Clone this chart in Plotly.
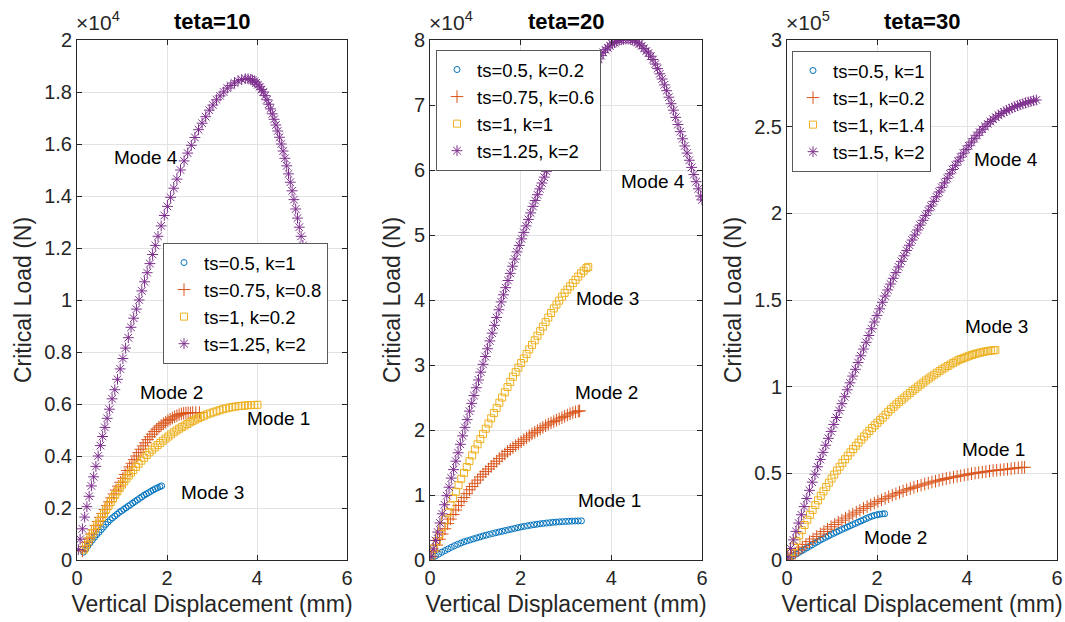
import plotly.graph_objects as go

# ---------------- DATA (x: mm, y: critical load in units of the axis exponent) ----------------
# teta = 10  (y in 1e4 N)
T10_NAMES = ["ts=0.5, k=1", "ts=0.75, k=0.8", "ts=1, k=0.2", "ts=1.25, k=2"]
T10_X1 = [0.14,0.19,0.24,0.29,0.34,0.39,0.44,0.49,0.54,0.59,0.64,0.69,0.74,0.79,0.84,0.89,0.94,0.99,1.04,1.09,1.14,1.19,1.24,1.29,1.34,1.39,1.44,1.49,1.54,1.59,1.64,1.69,1.74,1.79,1.84,1.88]
T10_Y1 = [0.030,0.042,0.054,0.066,0.077,0.088,0.098,0.107,0.117,0.127,0.137,0.146,0.155,0.162,0.169,0.176,0.183,0.189,0.195,0.201,0.207,0.213,0.219,0.225,0.231,0.237,0.243,0.249,0.254,0.259,0.264,0.269,0.274,0.278,0.282,0.285]
T10_X2 = [0.12,0.17,0.22,0.27,0.32,0.37,0.42,0.47,0.52,0.57,0.62,0.67,0.72,0.77,0.82,0.87,0.92,0.97,1.02,1.07,1.12,1.17,1.22,1.27,1.32,1.37,1.42,1.47,1.52,1.57,1.62,1.67,1.72,1.77,1.82,1.87,1.92,1.97,2.02,2.07,2.12,2.17,2.22,2.27,2.32,2.37,2.42,2.47,2.52,2.57,2.64,2.72]
T10_Y2 = [0.035,0.052,0.068,0.084,0.100,0.116,0.132,0.148,0.164,0.179,0.194,0.209,0.224,0.239,0.254,0.269,0.284,0.299,0.314,0.329,0.344,0.358,0.372,0.386,0.400,0.413,0.426,0.439,0.451,0.463,0.474,0.484,0.494,0.503,0.511,0.518,0.524,0.530,0.536,0.541,0.546,0.551,0.555,0.559,0.562,0.564,0.565,0.566,0.566,0.567,0.567,0.567]
T10_X3 = [0.15,0.20,0.25,0.30,0.35,0.40,0.45,0.50,0.55,0.60,0.65,0.70,0.75,0.80,0.85,0.90,0.95,1.00,1.05,1.10,1.15,1.20,1.25,1.31,1.37,1.43,1.49,1.55,1.61,1.67,1.73,1.79,1.85,1.91,1.97,2.03,2.09,2.15,2.21,2.27,2.33,2.39,2.45,2.51,2.57,2.63,2.69,2.75,2.82,2.89,2.96,3.03,3.10,3.17,3.24,3.31,3.38,3.45,3.52,3.59,3.66,3.73,3.80,3.87,3.94,4.01]
T10_Y3 = [0.040,0.056,0.072,0.088,0.104,0.120,0.135,0.150,0.165,0.180,0.195,0.209,0.223,0.237,0.251,0.264,0.277,0.290,0.302,0.314,0.325,0.336,0.346,0.358,0.370,0.382,0.393,0.404,0.414,0.424,0.433,0.442,0.450,0.459,0.467,0.475,0.483,0.491,0.498,0.505,0.511,0.517,0.523,0.529,0.535,0.540,0.545,0.550,0.555,0.560,0.564,0.568,0.572,0.576,0.580,0.583,0.586,0.588,0.590,0.592,0.593,0.594,0.595,0.596,0.596,0.597]
T10_X4 = [0.03,0.07,0.12,0.17,0.22,0.27,0.32,0.37,0.42,0.47,0.52,0.57,0.62,0.67,0.72,0.78,0.84,0.90,0.96,1.02,1.08,1.14,1.20,1.26,1.32,1.38,1.44,1.50,1.56,1.62,1.68,1.74,1.80,1.87,1.94,2.01,2.08,2.15,2.22,2.30,2.38,2.46,2.54,2.62,2.70,2.78,2.86,2.94,3.02,3.10,3.18,3.26,3.34,3.42,3.50,3.58,3.66,3.74,3.80,3.86,3.90,3.94,3.98,4.02,4.06,4.10,4.14,4.18,4.22,4.26,4.30,4.34,4.38,4.42,4.46,4.50,4.54,4.58,4.62,4.66,4.70,4.74,4.78,4.82,4.86,4.90,4.94,4.98,5.02,5.06,5.10,5.14,5.18,5.22,5.26]
T10_Y4 = [0.040,0.080,0.120,0.165,0.205,0.245,0.285,0.320,0.360,0.400,0.440,0.475,0.510,0.545,0.580,0.620,0.655,0.695,0.735,0.775,0.815,0.855,0.895,0.930,0.965,1.000,1.035,1.070,1.105,1.140,1.175,1.210,1.245,1.285,1.325,1.360,1.395,1.430,1.465,1.500,1.535,1.565,1.595,1.625,1.655,1.680,1.705,1.730,1.750,1.770,1.785,1.800,1.815,1.825,1.835,1.843,1.848,1.851,1.851,1.849,1.846,1.841,1.835,1.828,1.820,1.810,1.800,1.786,1.770,1.753,1.735,1.716,1.695,1.673,1.650,1.626,1.600,1.573,1.545,1.516,1.485,1.453,1.420,1.386,1.350,1.315,1.280,1.245,1.210,1.175,1.140,1.103,1.065,1.028,0.990]

# teta = 20  (y in 1e4 N)
T20_NAMES = ["ts=0.5, k=0.2", "ts=0.75, k=0.6", "ts=1, k=1", "ts=1.25, k=2"]
T20_X1 = [0.05,0.12,0.19,0.26,0.33,0.40,0.47,0.54,0.61,0.68,0.75,0.82,0.89,0.96,1.03,1.10,1.17,1.24,1.31,1.38,1.45,1.52,1.59,1.66,1.73,1.80,1.87,1.94,2.01,2.08,2.15,2.22,2.29,2.36,2.43,2.50,2.57,2.64,2.71,2.78,2.85,2.92,2.99,3.06,3.13,3.20,3.27,3.34]
T20_Y1 = [0.02,0.06,0.09,0.12,0.145,0.17,0.195,0.22,0.24,0.26,0.28,0.295,0.31,0.325,0.34,0.355,0.37,0.383,0.395,0.407,0.419,0.431,0.442,0.453,0.464,0.475,0.487,0.498,0.509,0.518,0.527,0.535,0.543,0.55,0.557,0.563,0.569,0.574,0.579,0.583,0.587,0.59,0.593,0.596,0.598,0.6,0.601,0.602]
T20_X2 = [0.03,0.09,0.15,0.21,0.27,0.33,0.39,0.45,0.51,0.57,0.63,0.69,0.75,0.81,0.87,0.93,0.99,1.05,1.11,1.17,1.23,1.29,1.35,1.41,1.47,1.53,1.59,1.65,1.71,1.77,1.83,1.89,1.95,2.01,2.07,2.13,2.19,2.25,2.31,2.37,2.43,2.49,2.55,2.61,2.67,2.73,2.79,2.85,2.91,2.97,3.03,3.09,3.15,3.21,3.27,3.30]
T20_Y2 = [0.05,0.14,0.23,0.32,0.40,0.48,0.56,0.63,0.70,0.77,0.84,0.90,0.96,1.02,1.08,1.13,1.18,1.23,1.28,1.32,1.36,1.40,1.44,1.48,1.52,1.56,1.60,1.63,1.67,1.70,1.73,1.76,1.79,1.82,1.85,1.88,1.91,1.94,1.965,1.99,2.015,2.04,2.065,2.09,2.11,2.13,2.15,2.17,2.19,2.21,2.23,2.25,2.265,2.28,2.29,2.295]
T20_X3 = [0.03,0.09,0.15,0.21,0.27,0.33,0.39,0.45,0.51,0.57,0.63,0.69,0.75,0.81,0.87,0.93,0.99,1.05,1.11,1.17,1.23,1.29,1.35,1.41,1.47,1.53,1.59,1.65,1.71,1.77,1.83,1.89,1.95,2.01,2.07,2.13,2.19,2.25,2.31,2.37,2.43,2.49,2.55,2.61,2.67,2.73,2.79,2.85,2.91,2.97,3.03,3.09,3.15,3.21,3.27,3.33,3.39,3.45,3.49]
T20_Y3 = [0.06,0.17,0.29,0.40,0.51,0.62,0.73,0.84,0.95,1.05,1.15,1.25,1.34,1.43,1.52,1.61,1.70,1.78,1.86,1.94,2.02,2.10,2.18,2.26,2.34,2.42,2.50,2.58,2.66,2.74,2.82,2.89,2.96,3.03,3.10,3.17,3.24,3.31,3.38,3.45,3.52,3.59,3.66,3.73,3.80,3.87,3.93,3.99,4.05,4.11,4.16,4.21,4.26,4.31,4.36,4.41,4.45,4.49,4.51]
T20_X4 = [0.02,0.07,0.12,0.17,0.22,0.27,0.32,0.37,0.42,0.47,0.52,0.57,0.62,0.67,0.72,0.77,0.82,0.87,0.92,0.97,1.02,1.07,1.12,1.17,1.22,1.27,1.32,1.37,1.42,1.47,1.52,1.57,1.62,1.67,1.72,1.77,1.82,1.87,1.92,1.97,2.02,2.07,2.12,2.17,2.22,2.27,2.32,2.37,2.42,2.47,2.52,2.57,2.62,2.67,2.72,2.77,2.82,2.87,2.92,2.97,3.02,3.07,3.12,3.17,3.22,3.27,3.32,3.37,3.42,3.47,3.52,3.57,3.62,3.67,3.72,3.77,3.82,3.87,3.92,3.97,4.02,4.07,4.12,4.17,4.22,4.27,4.32,4.37,4.42,4.47,4.52,4.57,4.62,4.67,4.72,4.77,4.82,4.87,4.92,4.97,5.02,5.07,5.12,5.17,5.22,5.27,5.32,5.37,5.42,5.47,5.52,5.57,5.62,5.67,5.72,5.77,5.82,5.87,5.92,5.97,6.00]
T20_Y4 = [0.05,0.17,0.30,0.43,0.57,0.71,0.85,0.99,1.12,1.26,1.39,1.52,1.65,1.78,1.91,2.04,2.16,2.29,2.41,2.53,2.65,2.77,2.89,3.01,3.13,3.25,3.37,3.49,3.61,3.73,3.85,3.97,4.08,4.19,4.30,4.41,4.52,4.63,4.74,4.84,4.94,5.04,5.14,5.24,5.34,5.44,5.53,5.62,5.71,5.80,5.89,5.98,6.07,6.16,6.25,6.33,6.41,6.49,6.57,6.65,6.73,6.81,6.88,6.95,7.02,7.09,7.16,7.23,7.30,7.37,7.44,7.51,7.58,7.65,7.71,7.76,7.81,7.85,7.88,7.91,7.94,7.96,7.98,7.995,8.005,8.01,8.015,8.015,8.01,8.00,7.985,7.965,7.94,7.91,7.87,7.83,7.80,7.75,7.70,7.63,7.56,7.48,7.40,7.31,7.22,7.12,7.02,6.92,6.81,6.70,6.59,6.48,6.37,6.26,6.15,6.04,5.93,5.82,5.71,5.60,5.54]

# teta = 30  (y in 1e5 N)
T30_NAMES = ["ts=0.5, k=1", "ts=1, k=0.2", "ts=1, k=1.4", "ts=1.5, k=2"]
T30_X1 = [0.02,0.08,0.14,0.20,0.26,0.32,0.38,0.44,0.50,0.56,0.62,0.68,0.74,0.80,0.86,0.92,0.98,1.04,1.10,1.16,1.22,1.28,1.34,1.40,1.46,1.52,1.58,1.64,1.70,1.76,1.82,1.88,1.94,2.00,2.06,2.12,2.17]
T30_Y1 = [0.005,0.015,0.025,0.034,0.043,0.052,0.061,0.070,0.079,0.088,0.097,0.106,0.115,0.123,0.131,0.139,0.147,0.154,0.161,0.169,0.176,0.183,0.190,0.197,0.204,0.211,0.218,0.225,0.232,0.239,0.246,0.252,0.257,0.261,0.264,0.266,0.267]
T30_X2 = [0.02,0.10,0.18,0.26,0.34,0.42,0.50,0.58,0.66,0.74,0.82,0.90,0.98,1.06,1.14,1.22,1.30,1.38,1.46,1.54,1.62,1.70,1.78,1.86,1.94,2.02,2.10,2.18,2.26,2.34,2.42,2.50,2.58,2.66,2.74,2.82,2.90,2.98,3.06,3.14,3.22,3.30,3.38,3.46,3.54,3.62,3.70,3.78,3.86,3.94,4.02,4.10,4.18,4.26,4.34,4.42,4.50,4.58,4.66,4.74,4.82,4.90,4.98,5.06,5.14,5.22,5.28]
T30_Y2 = [0.005,0.022,0.040,0.057,0.074,0.090,0.106,0.121,0.136,0.150,0.164,0.178,0.192,0.205,0.218,0.230,0.242,0.254,0.265,0.276,0.287,0.298,0.308,0.318,0.328,0.338,0.347,0.356,0.365,0.374,0.382,0.390,0.398,0.405,0.412,0.419,0.426,0.432,0.438,0.444,0.450,0.455,0.460,0.465,0.470,0.474,0.478,0.482,0.486,0.490,0.494,0.498,0.501,0.504,0.507,0.510,0.513,0.516,0.518,0.520,0.522,0.524,0.527,0.530,0.532,0.534,0.535]
T30_X3 = [0.03,0.09,0.15,0.21,0.27,0.33,0.39,0.45,0.51,0.57,0.63,0.69,0.75,0.81,0.87,0.93,0.99,1.05,1.11,1.17,1.23,1.29,1.35,1.41,1.47,1.53,1.59,1.65,1.71,1.77,1.83,1.89,1.95,2.01,2.07,2.13,2.19,2.25,2.31,2.37,2.43,2.49,2.55,2.61,2.67,2.73,2.79,2.85,2.91,2.97,3.03,3.09,3.15,3.21,3.27,3.33,3.39,3.45,3.51,3.57,3.63,3.69,3.75,3.81,3.87,3.93,3.99,4.05,4.11,4.17,4.23,4.29,4.35,4.41,4.47,4.53,4.59,4.63]
T30_Y3 = [0.012,0.045,0.078,0.110,0.141,0.172,0.202,0.232,0.261,0.289,0.317,0.344,0.370,0.396,0.421,0.446,0.470,0.493,0.516,0.538,0.560,0.581,0.601,0.621,0.640,0.659,0.677,0.695,0.712,0.729,0.745,0.761,0.777,0.792,0.807,0.822,0.838,0.855,0.870,0.884,0.898,0.911,0.924,0.937,0.950,0.963,0.976,0.988,1.000,1.012,1.024,1.036,1.047,1.058,1.069,1.080,1.090,1.100,1.110,1.119,1.128,1.137,1.145,1.153,1.160,1.166,1.172,1.178,1.183,1.188,1.192,1.196,1.200,1.203,1.206,1.208,1.210,1.211]
T30_X4 = [0.02,0.08,0.14,0.20,0.26,0.32,0.38,0.44,0.50,0.56,0.62,0.68,0.74,0.80,0.86,0.92,0.98,1.04,1.10,1.16,1.22,1.28,1.34,1.40,1.46,1.52,1.58,1.64,1.70,1.76,1.82,1.88,1.94,2.00,2.06,2.12,2.18,2.24,2.30,2.36,2.42,2.48,2.54,2.60,2.66,2.72,2.78,2.84,2.90,2.96,3.02,3.08,3.14,3.20,3.26,3.32,3.38,3.44,3.50,3.56,3.62,3.68,3.74,3.80,3.86,3.92,3.98,4.04,4.10,4.16,4.22,4.28,4.34,4.40,4.46,4.52,4.58,4.64,4.70,4.76,4.82,4.88,4.94,5.00,5.06,5.12,5.18,5.24,5.30,5.36,5.42,5.48,5.54]
T30_Y4 = [0.017,0.067,0.116,0.165,0.213,0.261,0.308,0.355,0.402,0.449,0.495,0.538,0.580,0.621,0.662,0.702,0.742,0.782,0.822,0.862,0.902,0.942,0.982,1.022,1.061,1.100,1.139,1.178,1.217,1.256,1.295,1.334,1.373,1.411,1.449,1.487,1.523,1.558,1.592,1.625,1.658,1.691,1.723,1.755,1.786,1.816,1.846,1.875,1.904,1.932,1.960,1.988,2.015,2.042,2.069,2.096,2.123,2.150,2.176,2.202,2.228,2.253,2.277,2.301,2.324,2.347,2.369,2.390,2.411,2.431,2.450,2.468,2.485,2.501,2.516,2.530,2.543,2.555,2.566,2.576,2.585,2.593,2.601,2.608,2.615,2.621,2.627,2.632,2.637,2.642,2.646,2.650,2.654]

# Mode labels (x, y, text)
T10_LABELS = [(1.53, 1.55, "Mode 4"), (2.09, 0.646, "Mode 2"), (4.47, 0.546, "Mode 1"), (3.0, 0.26, "Mode 3")]
T20_LABELS = [(4.92, 5.82, "Mode 4"), (3.92, 4.02, "Mode 3"), (3.89, 2.58, "Mode 2"), (3.97, 0.92, "Mode 1")]
T30_LABELS = [(4.87, 2.31, "Mode 4"), (4.66, 1.35, "Mode 3"), (4.58, 0.64, "Mode 1"), (2.41, 0.127, "Mode 2")]

T10_YTICKS = [0, 0.2, 0.4, 0.6, 0.8, 1, 1.2, 1.4, 1.6, 1.8, 2]
T20_YTICKS = [0, 1, 2, 3, 4, 5, 6, 7, 8]
T30_YTICKS = [0, 0.5, 1, 1.5, 2, 2.5, 3]
X_TICKS = [0, 2, 4, 6]

# ---------------- STYLE ----------------
W, H = 1065, 622
FONT = "Liberation Sans, Arial, Helvetica, sans-serif"
COLORS = ["#0072BD", "#D95319", "#EDB120", "#7E2F8E"]
SYMBOLS = ["circle-open", "cross-thin-open", "square-open", "asterisk-open"]
SIZES = [6, 9, 7, 9]
AX_COLOR = "#262626"
GRID = "#e3e3e3"

# pixel boxes of the three axes (left, right), shared top/bottom
X_PIX = [(77, 347), (430, 702), (787, 1057)]
TOP, BOTTOM = 40, 560
LEGEND_POS = [(163, 243), (436, 50), (792, 51)]

panels = [
    dict(title="teta=10", exp="4", names=T10_NAMES,
         xs=[T10_X1, T10_X2, T10_X3, T10_X4], ys=[T10_Y1, T10_Y2, T10_Y3, T10_Y4],
         yticks=T10_YTICKS, labels=T10_LABELS),
    dict(title="teta=20", exp="4", names=T20_NAMES,
         xs=[T20_X1, T20_X2, T20_X3, T20_X4], ys=[T20_Y1, T20_Y2, T20_Y3, T20_Y4],
         yticks=T20_YTICKS, labels=T20_LABELS),
    dict(title="teta=30", exp="5", names=T30_NAMES,
         xs=[T30_X1, T30_X2, T30_X3, T30_X4], ys=[T30_Y1, T30_Y2, T30_Y3, T30_Y4],
         yticks=T30_YTICKS, labels=T30_LABELS),
]

fig = go.Figure()
annotations = []
layout = {}

for i, p in enumerate(panels):
    n = "" if i == 0 else str(i + 1)
    xa, ya = "x" + n, "y" + n
    leg = "legend" + n
    for j in range(4):
        fig.add_trace(go.Scatter(
            x=p["xs"][j], y=p["ys"][j], mode="markers", name=p["names"][j],
            xaxis=xa, yaxis=ya, legend=leg,
            marker=dict(symbol=SYMBOLS[j], size=SIZES[j], color=COLORS[j],
                        line=dict(color=COLORS[j], width=1)),
        ))
    l, r = X_PIX[i]
    dom_x = [l / W, r / W]
    dom_y = [1 - BOTTOM / H, 1 - TOP / H]
    layout["xaxis" + n] = dict(
        domain=dom_x, range=[0, 6], tickvals=X_TICKS, ticktext=[str(t) for t in X_TICKS],
        anchor=ya, automargin=False, showgrid=True, gridcolor=GRID, zeroline=False,
        showline=True, linecolor=AX_COLOR, linewidth=1, mirror="ticks",
        ticks="inside", ticklen=5, tickcolor=AX_COLOR,
        tickfont=dict(family=FONT, size=20, color=AX_COLOR),
        title=dict(text="Vertical Displacement (mm)", standoff=7,
                   font=dict(family=FONT, size=23, color=AX_COLOR)),
    )
    yt = p["yticks"]
    layout["yaxis" + n] = dict(
        domain=dom_y, range=[yt[0], yt[-1]], tickvals=yt, ticktext=[("%g" % t) for t in yt],
        anchor=xa, automargin=False, showgrid=True, gridcolor=GRID, zeroline=False,
        showline=True, linecolor=AX_COLOR, linewidth=1, mirror="ticks",
        ticks="inside", ticklen=5, tickcolor=AX_COLOR,
        tickfont=dict(family=FONT, size=20, color=AX_COLOR),
        title=dict(text="Critical Load (N)", standoff=6,
                   font=dict(family=FONT, size=23, color=AX_COLOR)),
    )
    lx, ly = LEGEND_POS[i]
    layout[leg] = dict(
        x=lx / W, y=1 - ly / H, xanchor="left", yanchor="top",
        bgcolor="white", bordercolor="#5a5a5a", borderwidth=1,
        font=dict(family=FONT, size=18.5, color="#000000"),
        tracegroupgap=0,
    )
    # title
    annotations.append(dict(
        xref="paper", yref="paper", x=(l + r) / 2 / W, y=1 - 22 / H,
        text="<b>%s</b>" % p["title"], showarrow=False, xanchor="center", yanchor="middle",
        font=dict(family=FONT, size=22, color="#000000"),
    ))
    # exponent
    annotations.append(dict(
        xref="paper", yref="paper", x=(l - 3) / W, y=1 - 36 / H,
        text="×10<sup>%s</sup>" % p["exp"], showarrow=False, xanchor="left", yanchor="bottom",
        font=dict(family=FONT, size=21, color=AX_COLOR),
    ))
    for (tx, ty, tt) in p["labels"]:
        annotations.append(dict(
            xref=xa, yref=ya, x=tx, y=ty, text=tt, showarrow=False,
            xanchor="center", yanchor="middle",
            font=dict(family=FONT, size=19, color="#000000"),
        ))

fig.update_layout(
    width=W, height=H, margin=dict(l=0, r=0, t=0, b=0),
    paper_bgcolor="white", plot_bgcolor="white",
    annotations=annotations, **layout,
)

fig.write_html("out.html", config={"displayModeBar": False},
               post_script="document.body.style.margin='0px';")
